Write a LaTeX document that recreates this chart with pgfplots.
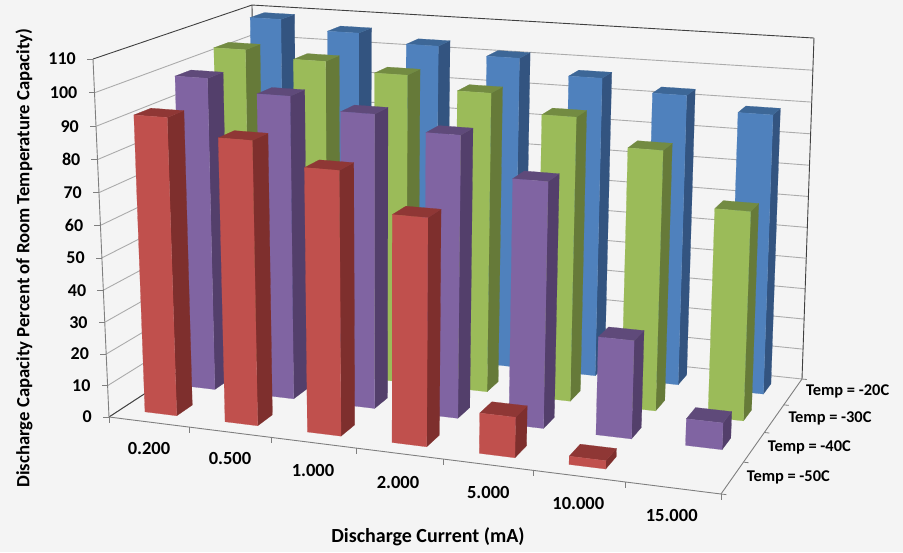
\documentclass[border=0pt]{standalone}
\usepackage{pgfplots}
\usepackage{pgfplotstable}
\usepackage{fontspec}
\setmainfont{Carlito}
\pgfplotsset{compat=1.18}

\definecolor{pagebg}{HTML}{F4F4F4}
\definecolor{gridc}{HTML}{ABABAB}
\definecolor{edgec}{HTML}{7F7F7F}
\definecolor{darkc}{HTML}{404040}
\definecolor{redF}{HTML}{C0504D}\definecolor{redS}{HTML}{7E2F2D}\definecolor{redT}{HTML}{8F3735}
\definecolor{purF}{HTML}{8064A2}\definecolor{purS}{HTML}{533F6B}\definecolor{purT}{HTML}{5F4A7A}
\definecolor{greF}{HTML}{9BBB59}\definecolor{greS}{HTML}{667A39}\definecolor{greT}{HTML}{738B42}
\definecolor{bluF}{HTML}{4F81BD}\definecolor{bluS}{HTML}{335480}\definecolor{bluT}{HTML}{3D6797}

% Discharge capacity in percent of room temperature capacity
\pgfplotstableread{
current  m50   m40   m30    m20
0.200    92.4  99.3  103.6  109.1
0.500    87.5  95.6  101.6  106.2
1.000    80.7  92.0  99.0   103.6
2.000    69.0  87.6  95.2   101.4
5.000    12.3  75.8  89.7   96.8
10.000   2.5   30.3  81.5   93.2
15.000   0     8.2   65.1   89.0
}\capacity

% Perspective of the chart box: X along the currents, Y along the temperatures
% (both 0..1), Z the height as a share of the axis maximum. Results in \pu, \pv.
\newcommand\proj[3]{%
  \pgfmathsetmacro\dnA{1-0.097*(#1)+0.13527*(#2)}%
  \pgfmathsetmacro\uA{(542.06*(#1)+181.63*(#2)+109)/\dnA}%
  \pgfmathsetmacro\vA{(29.08*(#1)-52.58*(#2)+417)/\dnA}%
  \pgfmathsetmacro\dnB{1-0.08393*(#1)+0.15416*(#2)}%
  \pgfmathsetmacro\uB{(580.31*(#1)+197.85*(#2)+93)/\dnB}%
  \pgfmathsetmacro\vB{(34.90*(#1)-53.229*(#2)+59)/\dnB}%
  \pgfmathsetmacro\tZ{(#3)*0.96/(1-(#3)+(#3)*0.96)}%
  \pgfmathsetmacro\pu{\uA+(\uB-\uA)*\tZ}%
  \pgfmathsetmacro\pv{\vA+(\vB-\vA)*\tZ}%
}
\newcommand\pt[4]{\proj{#2}{#3}{#4}\edef#1{(\pu,\pv)}}

% Straight line between two points of the box
\newcommand\seg[7]{%
  \pt\Pa{#2}{#3}{#4}\pt\Pb{#5}{#6}{#7}%
  \edef\cmd{\noexpand\addplot[#1] coordinates {\Pa\Pb};}\cmd
}

% One bar: category, row, value, three face colours
\newcommand\drawbar[6]{%
  \pgfmathsetmacro\xa{(#1+0.3)/7}\pgfmathsetmacro\xb{(#1+0.7)/7}%
  \pgfmathsetmacro\ya{(#2+0.3)/4}\pgfmathsetmacro\yb{(#2+0.7)/4}%
  \pgfmathsetmacro\zz{#3/110}%
  \pt\Pa\xa\ya{0}\pt\Pb\xb\ya{0}\pt\Pc\xb\yb{0}%
  \pt\Pd\xa\ya\zz\pt\Pe\xb\ya\zz\pt\Pf\xb\yb\zz\pt\Pg\xa\yb\zz
  \edef\cmd{\noexpand\addplot[fill=#5,draw=#5,line width=.2pt] coordinates {\Pb\Pc\Pf\Pe} --cycle;}\cmd
  \edef\cmd{\noexpand\addplot[fill=#6,draw=#6,line width=.2pt] coordinates {\Pd\Pe\Pf\Pg} --cycle;}\cmd
  \edef\cmd{\noexpand\addplot[fill=#4,draw=#4,line width=.2pt] coordinates {\Pa\Pb\Pe\Pd} --cycle;}\cmd
}

\newcommand\lbl[2]{\fontsize{#1}{#1}\selectfont\bfseries #2}

\begin{document}
\begin{tikzpicture}
\begin{axis}[
  at={(0,0)}, anchor=south west,
  scale only axis, width=903pt, height=552pt,
  xmin=0, xmax=903, ymin=0, ymax=552, y dir=reverse,
  xtick=\empty, ytick=\empty,
  axis line style={draw=none},
  axis background/.style={fill=pagebg},
  clip=false,
]
% walls: gridlines every 10 units
\pgfplotsforeachungrouped \g in {0,10,...,100}{%
  \pgfmathsetmacro\gz{\g/110}%
  \seg{gridc,line width=.9pt}{0}{0}{\gz}{0}{1}{\gz}%
  \seg{gridc,line width=.9pt}{0}{1}{\gz}{1}{1}{\gz}%
}
% box edges
\seg{darkc,line width=.9pt}{0}{0}{1}{0}{1}{1}
\seg{darkc,line width=.9pt}{0}{1}{1}{1}{1}{1}
\seg{darkc,line width=.9pt}{1}{1}{0}{1}{1}{1}
\seg{darkc,line width=.9pt}{0}{1}{0}{0}{1}{1}
\seg{darkc,line width=.9pt}{0}{0}{0}{0}{1}{0}
\seg{edgec,line width=.9pt}{0}{0}{0}{0}{0}{1}
\seg{edgec,line width=.9pt}{0}{0}{0}{1}{0}{0}
\seg{edgec,line width=.9pt}{1}{0}{0}{1}{1}{0}
% tick marks on the floor edges
\pgfplotsforeachungrouped \k in {0,...,7}{%
  \pgfmathsetmacro\kx{\k/7}%
  \proj{\kx}{0}{0}%
  \pgfmathsetmacro\pw{\pv+6}%
  \edef\cmd{\noexpand\addplot[edgec,line width=.8pt] coordinates {(\pu,\pv)(\pu,\pw)};}\cmd
}
\pgfplotsforeachungrouped \k in {0,...,4}{%
  \pgfmathsetmacro\ky{\k/4}%
  \seg{edgec,line width=.8pt}{1}{\ky}{0}{1.008}{\ky}{0}%
}
% bars, back row first and from left to right
\pgfplotsforeachungrouped \j in {3,2,1,0}{%
  \pgfmathtruncatemacro\colidx{\j+1}%
  \pgfplotsforeachungrouped \i in {0,...,6}{%
    \pgfplotstablegetelem{\i}{[index]\colidx}\of\capacity
    \let\barval\pgfplotsretval
    \ifdim\barval pt>0pt
      \ifcase\j
        \drawbar{\i}{\j}{\barval}{redF}{redS}{redT}%
      \or
        \drawbar{\i}{\j}{\barval}{purF}{purS}{purT}%
      \or
        \drawbar{\i}{\j}{\barval}{greF}{greS}{greT}%
      \or
        \drawbar{\i}{\j}{\barval}{bluF}{bluS}{bluT}%
      \fi
    \fi
  }%
}
% height axis labels and ticks
\pgfplotsforeachungrouped \g in {0,10,...,110}{%
  \pgfmathsetmacro\gz{\g/110}%
  \proj{0}{0}{\gz}%
  \pgfmathsetmacro\pw{\pu-6}%
  \edef\cmd{\noexpand\addplot[edgec,line width=.8pt] coordinates {(\pu,\pv)(\pw,\pv)};}\cmd
  \pgfmathsetmacro\pw{\pu-17}%
  \edef\cmd{\noexpand\node[anchor=east,inner sep=0pt] at (axis cs:\pw,\pv) {\noexpand\lbl{18}{\g}};}\cmd
}
% category labels
\node[inner sep=0pt] at (axis cs:149,448.7) {\lbl{18.5}{0.200}};
\node[inner sep=0pt] at (axis cs:230,458.7) {\lbl{18.5}{0.500}};
\node[inner sep=0pt] at (axis cs:313,470) {\lbl{18.5}{1.000}};
\node[inner sep=0pt] at (axis cs:398,482) {\lbl{18.5}{2.000}};
\node[inner sep=0pt] at (axis cs:488.3,492) {\lbl{18.5}{5.000}};
\node[inner sep=0pt] at (axis cs:578.3,503) {\lbl{18.5}{10.000}};
\node[inner sep=0pt] at (axis cs:671.7,515.7) {\lbl{18.5}{15.000}};
% series labels along the depth axis
\node[inner sep=0pt] at (axis cs:788.3,477.7) {\lbl{16.4}{Temp = -50C}};
\node[inner sep=0pt] at (axis cs:809.3,447.7) {\lbl{16.4}{Temp = -40C}};
\node[inner sep=0pt] at (axis cs:830,418.3) {\lbl{16.4}{Temp = -30C}};
\node[inner sep=0pt] at (axis cs:847.7,391.7) {\lbl{16.4}{Temp = -20C}};
% axis titles
\node[inner sep=0pt] at (axis cs:428,537) {\lbl{20}{Discharge Current (mA)}};
\node[inner sep=0pt,rotate=90] at (axis cs:24,258) {\lbl{18.7}{Discharge Capacity Percent of Room Temperature Capacity)}};
\end{axis}
\end{tikzpicture}
\end{document}
